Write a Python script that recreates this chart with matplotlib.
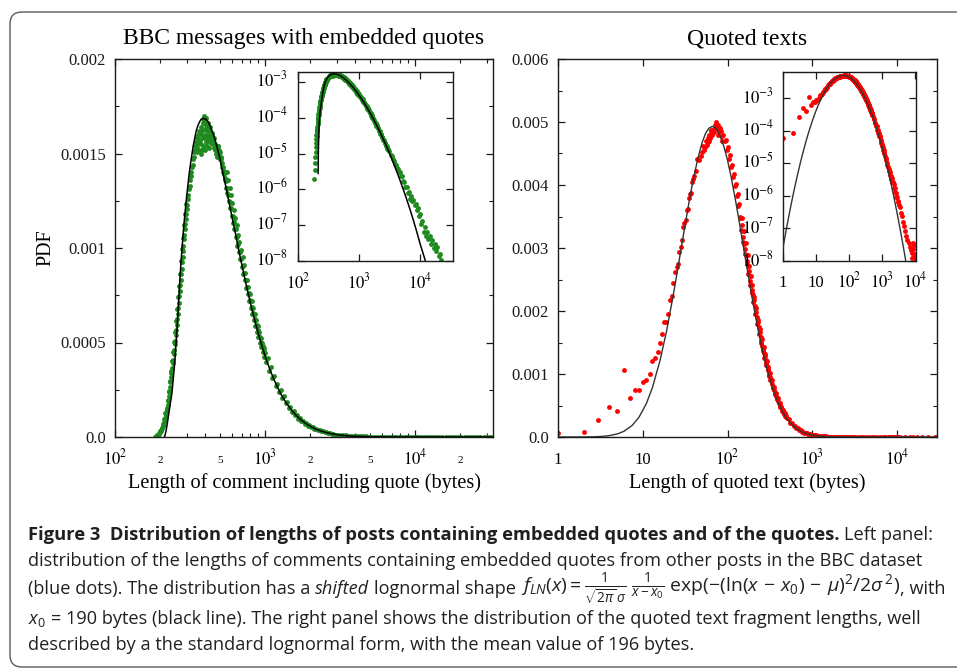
import numpy as np
import matplotlib
matplotlib.use('Agg')
import matplotlib.pyplot as plt
from matplotlib.transforms import blended_transform_factory as btf, ScaledTranslation, IdentityTransform
from matplotlib.patches import FancyBboxPatch
from matplotlib.ticker import FixedLocator, NullLocator, NullFormatter, LogLocator, MultipleLocator

# ---------------- data ----------------
# Left panel: length of comment including quote (bytes) and its PDF (green dots)
left_len = [186,188,190,192,194,196,198,200,202,204,206,208,210,212,214,216,218,220,222,224,226,228,230,232,234,236,238,
            240,242,244,246,248,250,252,254,256,258,260,262,264,266,268,270,272,274,276,278,280,282,284,286,288,290,292,294,296,298,300,
            302,305,308,311,314,317,320,323,326,329,332,335,338,341,
            344,347,350,353,356,359,362,365,368,371,374,377,380,383,386,389,392,395,398,401,404,407,410,413,416,419,422,425,428,431,434,437,440,443,446,449,
            453,457,461,465,469,473,477,481,
            484,490,496,502,508,514,520,526,532,538,544,550,556,562,568,574,580,586,592,598,605,612,619,626,633,640,647,654,661,668,
            676,684,692,700,708,716,724,732,740,749,758,767,776,785,794,803,813,823,833,843,853,863,873,883,893,903,914,925,936,947,958,969,980,991,1002,
            1020,1045,1070,1095,1120,1150,1180,1210,1240,1270,1300,1335,1370,1405,1440,1475,1510,1550,1590,1630,1670,1710,1750,1795,1840,1885,1930,1980,
            2030,2080,2130,2190,2250,2310,2370,2430,2500,2570,2640,2710,2780,2860,2940,3020,
            3150,3300,3450,3600,3750,3900,4050,4200,4350,4500,4700,4900,5100,5300,5550,5800,6050,6300,6600,6900,
            7200,7500,7850,8200,8550,8900,9300,9700,10100,10500,11000,11500,12000,12600,13200,13800,14500,15200,16000,16800,
            17600,18500,19400,20400,21400,22500,23600,24800,26000,27300,28700,30100,31600,33000,
            351,363,372,381,393,400,411,421,385,399,405,415,430,445,460,
            241,245,249,253,257,261,265,269,273,277,281,285,289,293,297,
            201,205,209,213,217,221,225,229,233,237,
            487,499,511,523,535,547,559,571,583,595,608,622,636,650,664,680,696,712,728,744,762,780,798,818,838,858,878,898,919,941,963,985]
left_pdf = [2.0e-6,3.5e-6,5.5e-6,8.0e-6,1.1e-5,1.5e-5,2.0e-5,2.6e-5,3.2e-5,3.9e-5,4.7e-5,5.6e-5,6.6e-5,7.7e-5,8.9e-5,1.02e-4,1.16e-4,1.32e-4,1.50e-4,1.70e-4,1.92e-4,2.15e-4,2.40e-4,2.65e-4,2.90e-4,3.15e-4,3.40e-4,
            3.65e-4,3.9e-4,4.1e-4,4.4e-4,4.6e-4,4.9e-4,5.1e-4,5.4e-4,5.65e-4,5.95e-4,6.25e-4,6.5e-4,6.85e-4,7.1e-4,7.45e-4,7.7e-4,8.05e-4,8.3e-4,8.65e-4,8.9e-4,9.25e-4,9.5e-4,9.85e-4,1.01e-3,1.045e-3,1.07e-3,1.10e-3,1.125e-3,1.155e-3,1.18e-3,1.205e-3,
            1.23e-3,1.26e-3,1.28e-3,1.31e-3,1.33e-3,1.36e-3,1.38e-3,1.40e-3,1.43e-3,1.44e-3,1.47e-3,1.48e-3,1.51e-3,1.52e-3,
            1.54e-3,1.56e-3,1.53e-3,1.58e-3,1.55e-3,1.60e-3,1.56e-3,1.62e-3,1.57e-3,1.61e-3,1.55e-3,1.64e-3,1.59e-3,1.62e-3,1.53e-3,1.66e-3,1.58e-3,1.70e-3,1.60e-3,1.63e-3,1.56e-3,1.65e-3,1.59e-3,1.62e-3,1.57e-3,1.64e-3,1.60e-3,1.58e-3,1.62e-3,1.56e-3,1.60e-3,1.57e-3,1.59e-3,1.55e-3,1.58e-3,1.56e-3,
            1.57e-3,1.53e-3,1.55e-3,1.52e-3,1.53e-3,1.50e-3,1.51e-3,1.48e-3,
            1.54e-3,1.49e-3,1.52e-3,1.47e-3,1.48e-3,1.43e-3,1.45e-3,1.40e-3,1.41e-3,1.36e-3,1.37e-3,1.32e-3,1.40e-3,1.29e-3,1.36e-3,1.25e-3,1.32e-3,1.21e-3,1.28e-3,1.17e-3,1.24e-3,1.13e-3,1.20e-3,1.10e-3,1.16e-3,1.06e-3,1.12e-3,1.01e-3,1.07e-3,9.8e-4,
            1.03e-3,9.4e-4,9.9e-4,9.0e-4,9.5e-4,8.6e-4,9.1e-4,8.3e-4,8.7e-4,7.9e-4,8.3e-4,7.55e-4,7.95e-4,7.2e-4,7.55e-4,6.85e-4,7.2e-4,6.5e-4,6.85e-4,6.2e-4,6.5e-4,5.85e-4,6.2e-4,5.55e-4,5.85e-4,5.3e-4,5.55e-4,5.0e-4,5.25e-4,4.75e-4,4.98e-4,4.5e-4,4.72e-4,4.25e-4,4.45e-4,
            3.95e-4,4.17e-4,3.50e-4,3.70e-4,3.10e-4,3.25e-4,2.71e-4,2.83e-4,2.37e-4,2.48e-4,2.07e-4,2.15e-4,1.78e-4,1.86e-4,1.54e-4,1.61e-4,1.33e-4,1.38e-4,1.14e-4,1.18e-4,9.75e-5,1.01e-4,8.37e-5,8.62e-5,7.1e-5,7.34e-5,6.05e-5,6.22e-5,
            5.1e-5,5.24e-5,4.3e-5,4.37e-5,3.56e-5,3.62e-5,2.95e-5,3.0e-5,2.41e-5,2.43e-5,1.95e-5,1.97e-5,1.6e-5,1.62e-5,1.31e-5,1.31e-5,
            1.15e-5,9.3e-6,8.4e-6,6.9e-6,6.3e-6,5.2e-6,4.8e-6,3.9e-6,3.7e-6,3.0e-6,3.0e-6,2.4e-6,2.3e-6,1.7e-6,1.6e-6,1.15e-6,1.2e-6,8.0e-7,8.5e-7,5.5e-7,
            6.5e-7,4.6e-7,5.2e-7,3.6e-7,4.0e-7,2.6e-7,3.0e-7,1.8e-7,2.0e-7,1.1e-7,1.3e-7,6.6e-8,9.0e-8,5.0e-8,6.5e-8,4.0e-8,5.0e-8,3.0e-8,3.8e-8,2.3e-8,
            3.0e-8,1.9e-8,2.4e-8,1.4e-8,1.6e-8,1.1e-8,8e-9,6e-9,7e-9,5e-9,6e-9,4e-9,5e-9,3e-9,
            1.51e-3,1.52e-3,1.50e-3,1.52e-3,1.54e-3,1.52e-3,1.54e-3,1.53e-3,1.68e-3,1.67e-3,1.69e-3,1.66e-3,1.64e-3,1.61e-3,1.58e-3,
            4.0e-4,4.5e-4,5.05e-4,5.55e-4,6.15e-4,6.75e-4,7.4e-4,8.0e-4,8.65e-4,9.3e-4,9.95e-4,1.055e-3,1.12e-3,1.18e-3,1.235e-3,
            3.4e-5,5.0e-5,7.0e-5,9.5e-5,1.25e-4,1.55e-4,1.95e-4,2.45e-4,2.95e-4,3.5e-4,
            1.54e-3,1.51e-3,1.47e-3,1.43e-3,1.39e-3,1.355e-3,1.32e-3,1.28e-3,1.245e-3,1.21e-3,1.17e-3,1.135e-3,1.10e-3,1.06e-3,1.02e-3,9.8e-4,9.4e-4,9.05e-4,8.7e-4,8.3e-4,
            7.95e-4,7.6e-4,7.25e-4,6.9e-4,6.55e-4,6.25e-4,5.95e-4,5.65e-4,5.35e-4,5.05e-4,4.8e-4,4.55e-4]
# Left panel: shifted lognormal fit (black line)
left_fit_len = [214,216,219,222,226,230,234,239,244,248,252,256,260,264,268,272,276,280,285,290,
                295,300,306,312,318,325,332,340,348,356,365,374,384,394,405,416,428,440,453,466,
                480,495,510,526,543,560,578,597,617,638,660,683,707,732,758,785,813,842,872,903,
                935,968,1002,1040,1080,1125,1175,1230,1290,1360,1440,1530,1630,1740,1860,2000,2160,2340,2550,2800,
                3100,3450,3850,4300,4800,5400,6100,6900,7800,8800,10000,11400,13000,14800,20000,33100]
left_fit_pdf = [2.8e-6,1.2e-5,3.2e-5,6.0e-5,1.0e-4,1.42e-4,1.8e-4,2.25e-4,3.0e-4,3.6e-4,4.3e-4,5.1e-4,5.9e-4,6.8e-4,7.7e-4,8.6e-4,9.35e-4,1.0e-3,1.08e-3,1.15e-3,
                1.21e-3,1.27e-3,1.33e-3,1.39e-3,1.44e-3,1.49e-3,1.54e-3,1.58e-3,1.62e-3,1.645e-3,1.665e-3,1.68e-3,1.685e-3,1.685e-3,1.68e-3,1.67e-3,1.65e-3,1.625e-3,1.60e-3,1.57e-3,
                1.53e-3,1.49e-3,1.44e-3,1.39e-3,1.34e-3,1.29e-3,1.235e-3,1.18e-3,1.125e-3,1.07e-3,1.01e-3,9.53e-4,8.97e-4,8.42e-4,7.88e-4,7.36e-4,6.85e-4,6.37e-4,5.9e-4,5.46e-4,
                5.04e-4,4.65e-4,4.28e-4,3.9e-4,3.56e-4,3.2e-4,2.86e-4,2.53e-4,2.21e-4,1.91e-4,1.62e-4,1.35e-4,1.11e-4,9.0e-5,7.25e-5,5.7e-5,4.35e-5,3.27e-5,2.38e-5,1.67e-5,
                1.12e-5,7.2e-6,4.5e-6,2.75e-6,1.66e-6,9.5e-7,5.2e-7,2.75e-7,1.4e-7,7.0e-8,3.2e-8,1.55e-8,7.5e-9,3.5e-9,4e-10,1e-11]

# Right panel: length of quoted text (bytes) and its PDF (red dots)
right_len = [1,2,3,4,5,6,7,8,9,10,11,12,13,14,15,16,17,18,19,20,21,22,23,24,25,26,27,28,29,30,31,32,33,34,35,36,37,38,39,40,
             42,44,46,48,50,52,54,56,58,60,62,64,66,68,70,72,74,76,78,80,
             83,86,89,92,95,98,101,104,107,110,113,116,119,122,125,128,131,134,137,140,
             144,148,152,156,160,164,168,172,176,180,184,188,192,196,200,
             206,212,218,224,230,236,242,248,254,260,266,272,278,284,290,296,302,308,314,320,
             330,340,350,360,370,380,390,400,410,420,430,440,450,460,470,480,490,500,
             525,550,575,600,625,650,675,700,725,750,775,800,
             830,860,890,920,950,980,1010,1040,1070,1100,1130,1160,1190,
             1260,1320,1380,1440,1500,1560,1620,1680,1740,1800,1860,1920,1980,
             2100,2200,2300,2400,2500,2600,2700,2800,2900,3000,
             3200,3450,3700,4000,4300,4650,5000,5400,5800,6250,6750,7250,7800,8400,9050,9750,
             8000,8600,9200,9900,10200,
             10800,12500,14000,15500,17000,19500,23000,28000,29500,
             53,57,58,61,63,67,71,75,77,82,85,
             142,146,150,154,158,162,166,170,174,178,182,186,190,194,198,
             203,209,215,221,227,233,239,245,251,257,263,269,275,281,287,293,299,305,311,317,
             325,335,345,355,365,375,385,395,405,415,425,435,445,455,465,475,485,495]
right_pdf = [5.8e-5,8.5e-5,2.7e-4,4.8e-4,4.1e-4,1.07e-3,6.2e-4,7.5e-4,7.5e-4,8.8e-4,9.0e-4,1.0e-3,1.21e-3,1.25e-3,1.35e-3,1.49e-3,1.63e-3,1.83e-3,1.83e-3,1.96e-3,
             2.17e-3,2.24e-3,2.44e-3,2.62e-3,2.70e-3,2.74e-3,2.94e-3,3.02e-3,3.12e-3,3.33e-3,3.40e-3,3.45e-3,3.60e-3,3.62e-3,3.80e-3,3.85e-3,3.88e-3,4.05e-3,4.10e-3,4.15e-3,
             4.22e-3,4.42e-3,4.40e-3,4.46e-3,4.52e-3,4.62e-3,4.60e-3,4.70e-3,4.68e-3,4.80e-3,4.74e-3,4.86e-3,4.80e-3,4.88e-3,4.84e-3,4.96e-3,5.00e-3,4.90e-3,4.95e-3,4.85e-3,
             4.86e-3,4.78e-3,4.80e-3,4.70e-3,4.72e-3,4.55e-3,4.60e-3,4.42e-3,4.48e-3,4.28e-3,4.32e-3,4.12e-3,4.18e-3,3.98e-3,4.02e-3,3.82e-3,3.86e-3,3.66e-3,3.70e-3,3.50e-3,
             3.28e-3,3.48e-3,3.09e-3,3.27e-3,2.91e-3,3.08e-3,2.74e-3,2.89e-3,2.58e-3,2.72e-3,2.42e-3,2.56e-3,2.28e-3,2.41e-3,2.14e-3,
             2.23e-3,1.96e-3,2.04e-3,1.79e-3,1.86e-3,1.64e-3,1.71e-3,1.49e-3,1.56e-3,1.36e-3,1.43e-3,1.25e-3,1.31e-3,1.15e-3,1.20e-3,1.06e-3,1.105e-3,9.74e-4,1.02e-3,8.97e-4,
             9.1e-4,7.85e-4,8.0e-4,6.9e-4,7.0e-4,6.05e-4,6.2e-4,5.35e-4,5.45e-4,4.72e-4,4.83e-4,4.17e-4,4.29e-4,3.72e-4,3.82e-4,3.31e-4,3.41e-4,2.96e-4,
             2.9e-4,2.27e-4,2.22e-4,1.75e-4,1.73e-4,1.37e-4,1.36e-4,1.08e-4,1.07e-4,8.6e-5,8.6e-5,6.9e-5,
             6.8e-5,6.2e-5,5.2e-5,4.9e-5,4.1e-5,3.9e-5,3.3e-5,3.1e-5,2.6e-5,2.5e-5,2.1e-5,2.05e-5,1.72e-5,
             1.45e-5,1.25e-5,1.05e-5,9.0e-6,7.6e-6,6.8e-6,5.6e-6,5.2e-6,4.3e-6,4.0e-6,3.3e-6,3.5e-6,2.7e-6,
             2.6e-6,2.3e-6,1.8e-6,1.7e-6,1.3e-6,1.25e-6,9.5e-7,9.0e-7,7.0e-7,6.6e-7,
             5.2e-7,4.5e-7,3.0e-7,2.4e-7,1.6e-7,1.2e-7,8.5e-8,6.0e-8,4.5e-8,3.6e-8,2.6e-8,2.2e-8,1.7e-8,2.4e-8,1.3e-8,1.6e-8,
             1.2e-8,3.5e-8,3.0e-8,1.5e-8,1.1e-8,
             9e-9,8e-9,8e-9,7e-9,7e-9,6e-9,6e-9,5e-9,5e-9,
             4.55e-3,4.64e-3,4.75e-3,4.70e-3,4.88e-3,4.84e-3,4.90e-3,4.94e-3,4.80e-3,4.90e-3,4.70e-3,
             3.47e-3,3.36e-3,3.27e-3,3.17e-3,3.07e-3,2.98e-3,2.89e-3,2.80e-3,2.72e-3,2.64e-3,2.56e-3,2.48e-3,2.41e-3,2.34e-3,2.26e-3,
             2.18e-3,2.08e-3,1.99e-3,1.90e-3,1.82e-3,1.74e-3,1.66e-3,1.59e-3,1.52e-3,1.45e-3,1.39e-3,1.33e-3,1.28e-3,1.22e-3,1.17e-3,1.12e-3,1.08e-3,1.03e-3,9.9e-4,9.5e-4,
             9.0e-4,8.45e-4,7.9e-4,7.4e-4,6.9e-4,6.5e-4,6.1e-4,5.7e-4,5.4e-4,5.05e-4,4.75e-4,4.47e-4,4.2e-4,3.98e-4,3.75e-4,3.54e-4,3.35e-4,3.16e-4]
# Right panel: lognormal fit (dark line)
right_fit_len = [1,1.25,1.5,1.8,2.2,2.7,3.3,4,5,6,7.5,9,11,13,16,19,23,27,30,32,35,38,42,45,50,55,60,66,72,80,
                 90,100,110,122,134,144,152,160,172,184,200,212,230,248,266,284,302,320,350,380,410,440,470,500,550,600,650,700,750,800,
                 890,980,1070,1160,1260,1380,1500,1620,1740,1860,1980,2200,2400,2600,2800,3000,3800,4600,5600,7000,9000,12000,17000,24000,29500]
right_fit_pdf = [2.54e-8,8.97e-8,2.39e-7,6.07e-7,1.61e-6,4.1e-6,9.7e-6,2.1e-5,4.84e-5,9.07e-5,1.84e-4,3.12e-4,5.28e-4,7.85e-4,1.22e-3,1.67e-3,2.27e-3,2.82e-3,3.19e-3,3.41e-3,
                 3.72e-3,3.98e-3,4.26e-3,4.44e-3,4.67e-3,4.82e-3,4.90e-3,4.93e-3,4.91e-3,4.81e-3,4.62e-3,4.39e-3,4.13e-3,3.81e-3,3.50e-3,3.25e-3,3.06e-3,2.88e-3,2.63e-3,2.40e-3,
                 2.12e-3,1.94e-3,1.69e-3,1.48e-3,1.30e-3,1.14e-3,1.005e-3,8.88e-4,7.27e-4,5.98e-4,4.96e-4,4.13e-4,3.47e-4,2.93e-4,2.23e-4,1.72e-4,1.34e-4,1.06e-4,8.4e-5,6.75e-5,
                 4.64e-5,3.26e-5,2.34e-5,1.70e-5,1.22e-5,8.39e-6,5.88e-6,4.2e-6,3.05e-6,2.25e-6,1.68e-6,1.02e-6,6.64e-7,4.44e-7,3.03e-7,2.12e-7,5.85e-8,1.96e-8,6.01e-9,1.47e-9,
                 2.79e-10,3.73e-11,2.8e-12,1.83e-13,3.3e-14]

left_yticks = [0, 0.0005, 0.001, 0.0015, 0.002]
left_ytick_labels = ['0.0', '0.0005', '0.001', '0.0015', '0.002']
right_yticks = [0, 0.001, 0.002, 0.003, 0.004, 0.005, 0.006]
right_ytick_labels = ['0.0', '0.001', '0.002', '0.003', '0.004', '0.005', '0.006']
left_xmajor = [(100, '$10^{2}$'), (1000, '$10^{3}$'), (10000, '$10^{4}$')]
left_xminor_labels = [(200, '2'), (500, '5'), (2000, '2'), (5000, '5'), (20000, '2')]
right_xmajor = [(1, '1'), (10, '10'), (100, '$10^{2}$'), (1000, '$10^{3}$'), (10000, '$10^{4}$')]
inset_ydecades = [-8, -7, -6, -5, -4, -3]

# ---------------- styling ----------------
W, H = 957, 669
plt.rcParams['mathtext.fontset'] = 'stix'
SERIF = ['Liberation Serif', 'DejaVu Serif']
CAPF = 'Open Sans'
plt.rcParams['mathtext.rm'] = CAPF
plt.rcParams['mathtext.it'] = CAPF + ':italic'
plt.rcParams['mathtext.bf'] = CAPF + ':bold'
GREEN = '#1f8a1f'; RED = '#ff0000'

fig = plt.figure(figsize=(W/100, H/100), dpi=100)
r = fig.canvas.get_renderer()

def pax(x0, y0, x1, y1):
    return fig.add_axes([x0/W, 1-y1/H, (x1-x0)/W, (y1-y0)/H])

def style(ax):
    for s in ax.spines.values():
        s.set_linewidth(1.0); s.set_color('#1a1a1a')
    ax.tick_params(which='both', direction='in', top=True, right=True, colors='#1a1a1a',
                   labelbottom=False, labeltop=False, labelright=False)
    ax.tick_params(which='major', length=5, width=0.9)
    ax.tick_params(which='minor', length=2.8, width=0.8)

def xlab(ax, x, s, below, size):
    tr = btf(ax.transData, ax.transAxes) + ScaledTranslation(0, -below/100, fig.dpi_scale_trans)
    ax.text(x, 0, s, transform=tr, ha='center', va='baseline', fontsize=size, family=SERIF, clip_on=False)

def ylab(ax, y, s, gap, off, size):
    tr = btf(ax.transAxes, ax.transData) + ScaledTranslation(-gap/100, -off/100, fig.dpi_scale_trans)
    ax.text(0, y, s, transform=tr, ha='right', va='baseline', fontsize=size, family=SERIF, clip_on=False)

DOT = dict(marker='o', ls='none', ms=3.5, mec='none', zorder=2)

# left main
axL = pax(115, 59, 493, 437)
style(axL)
axL.set_xscale('log'); axL.set_xlim(100, 33113); axL.set_ylim(0, 0.002)
axL.xaxis.set_major_locator(FixedLocator([v for v, _ in left_xmajor]))
axL.xaxis.set_minor_locator(LogLocator(base=10, subs=np.arange(2, 10)))
axL.xaxis.set_minor_formatter(NullFormatter())
axL.set_yticks(left_yticks)
axL.set_yticklabels(left_ytick_labels, family=SERIF, fontsize=12)
axL.yaxis.set_minor_locator(MultipleLocator(0.00025))
axL.tick_params(axis='y', pad=6.5)
axL.plot(left_len, left_pdf, color=GREEN, **DOT)
axL.plot(left_fit_len, left_fit_pdf, '-', color='black', lw=1.1, zorder=3)
for v, s in left_xmajor:
    xlab(axL, v, s, 27, 12)
for v, s in left_xminor_labels:
    xlab(axL, v, s, 26, 8)

# right main
axR = pax(558, 59, 937, 437)
style(axR)
axR.set_xscale('log'); axR.set_xlim(1, 29512); axR.set_ylim(0, 0.006)
axR.xaxis.set_major_locator(FixedLocator([v for v, _ in right_xmajor]))
axR.xaxis.set_minor_locator(NullLocator())
axR.set_yticks(right_yticks)
axR.set_yticklabels(right_ytick_labels, family=SERIF, fontsize=12)
axR.yaxis.set_minor_locator(MultipleLocator(0.0005))
axR.tick_params(axis='y', pad=6.5)
axR.plot(right_len, right_pdf, color=RED, **DOT)
axR.plot(right_fit_len, right_fit_pdf, '-', color='#333333', lw=1.0, zorder=3)
for v, s in right_xmajor:
    xlab(axR, v, s, 27, 12)

# left inset
axLi = pax(298, 72, 453, 261)
style(axLi)
axLi.set_xscale('log'); axLi.set_yscale('log')
axLi.set_xlim(100, 35000); axLi.set_ylim(1e-8, 1.9e-3)
axLi.xaxis.set_major_locator(FixedLocator([v for v, _ in left_xmajor])); axLi.xaxis.set_minor_locator(NullLocator())
axLi.yaxis.set_major_locator(FixedLocator([10.0**e for e in inset_ydecades])); axLi.yaxis.set_minor_locator(NullLocator())
axLi.tick_params(labelleft=False)
axLi.plot(left_len, left_pdf, color=GREEN, **DOT)
axLi.plot(left_fit_len, left_fit_pdf, '-', color='black', lw=1.1, zorder=3)
for v, s in left_xmajor:
    xlab(axLi, v, s, 27, 12)
for e in inset_ydecades:
    ylab(axLi, 10.0**e, '$10^{%d}$' % e, 10, 4.7, 12)

# right inset
axRi = pax(783, 72, 916, 261)
style(axRi)
axRi.set_xscale('log'); axRi.set_yscale('log')
axRi.set_xlim(1, 10500); axRi.set_ylim(1e-8, 6.3e-3)
axRi.xaxis.set_major_locator(FixedLocator([v for v, _ in right_xmajor])); axRi.xaxis.set_minor_locator(NullLocator())
axRi.yaxis.set_major_locator(FixedLocator([10.0**e for e in inset_ydecades])); axRi.yaxis.set_minor_locator(NullLocator())
axRi.tick_params(labelleft=False)
axRi.plot(right_len, right_pdf, color=RED, **DOT)
axRi.plot(right_fit_len, right_fit_pdf, '-', color='#333333', lw=1.0, zorder=3)
for v, s in right_xmajor:
    xlab(axRi, v, s, 26, 12)
for e in inset_ydecades:
    ylab(axRi, 10.0**e, '$10^{%d}$' % e, 9, 5, 12)

# titles and axis labels
fig.text(304/W, 1-44/H, 'BBC messages with embedded quotes', ha='center', va='baseline', family=SERIF, fontsize=17)
fig.text(747/W, 1-44/H, 'Quoted texts', ha='center', va='baseline', family=SERIF, fontsize=17)
fig.text(304/W, 1-488/H, 'Length of comment including quote (bytes)', ha='center', va='baseline', family=SERIF, fontsize=14.6)
fig.text(747/W, 1-488/H, 'Length of quoted text (bytes)', ha='center', va='baseline', family=SERIF, fontsize=14.6)
fig.text(46/W, 1-248/H, 'PDF', ha='center', va='center', rotation=90, family=SERIF, fontsize=14.5)

# rounded frame
box = FancyBboxPatch((10, H-667), 990, 655, boxstyle='round,pad=0,rounding_size=12',
                     transform=IdentityTransform(), fill=False, ec='#5a5a5a', lw=1.0)
fig.add_artist(box)

# caption
line2 = 'distribution of the lengths of comments containing embedded quotes from other posts in the BBC dataset'
t = fig.text(0, 0, line2, family=CAPF, fontsize=14)
w14 = t.get_window_extent(r).width; t.remove()
CS = 14 * 899 / w14
t1 = fig.text(0, 0, 'n n', family=CAPF, fontsize=CS); t2 = fig.text(0, 0, 'nn', family=CAPF, fontsize=CS)
SP = t1.get_window_extent(r).width - t2.get_window_extent(r).width; t1.remove(); t2.remove()

R_ = dict(family=CAPF); B_ = dict(family=CAPF, weight='bold'); I_ = dict(family=CAPF, style='italic')
M_ = dict(family=CAPF, math_fontfamily='custom')
def cline(pieces, base, x0=28):
    x = x0
    for p in pieces:
        if p is None:
            x += SP; continue
        s, kw, k = p
        tt = fig.text(x/W, 1-base/H, s, fontsize=CS*k, ha='left', va='baseline', color='#231f20', **kw)
        x += tt.get_window_extent(r).width
    return x

formula = r'$f_{LN}(x) = \frac{1}{\sqrt{2\pi}\,\sigma}\;\frac{1}{x-x_0}\;\mathrm{exp}(-(\mathrm{ln}(x\,-\,x_0)\,-\,\mu)^2/2\sigma^{\,2})$'
cline([('Figure 3  Distribution of lengths of posts containing embedded quotes and of the quotes.', B_, 1.015), None, ('Left panel:', R_, 1)], 540)
cline([(line2, R_, 1)], 566)
cline([('(blue dots). The distribution has a', R_, 1), None, ('shifted', I_, 1), None, ('lognormal shape', R_, 1), None, (formula, M_, 1.07), (', with', R_, 1)], 594)
cline([('$x_0$', M_, 1), None, ('= 190 bytes (black line). The right panel shows the distribution of the quoted text fragment lengths, well', R_, 1)], 624)
cline([('described by a the standard lognormal form, with the mean value of 196 bytes.', R_, 1)], 650)

fig.savefig('out.png', dpi=100)
